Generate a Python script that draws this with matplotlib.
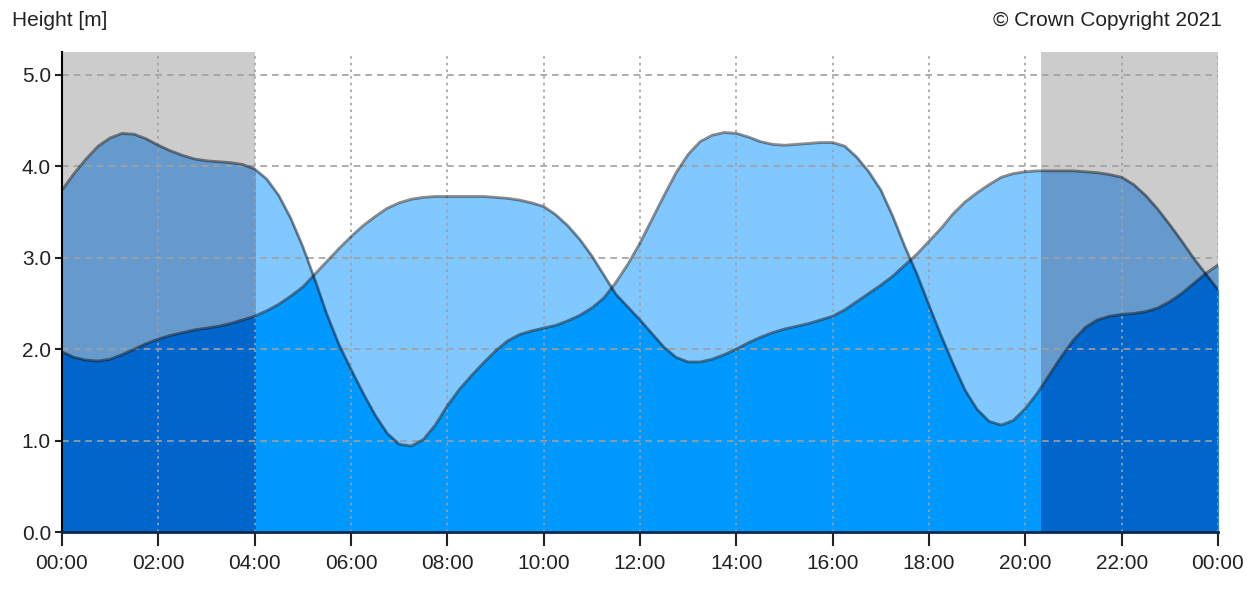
import numpy as np
import matplotlib
matplotlib.use("Agg")
import matplotlib.pyplot as plt
from matplotlib.patches import Rectangle

plt.rcParams['font.family'] = ['Liberation Sans', 'DejaVu Sans']

# readings every quarter hour, 00:00 to 24:00
hours = np.linspace(0, 24, 97)

# tide heights (m), two curves
height_a = [3.74, 3.92, 4.08, 4.22, 4.31, 4.36, 4.35, 4.30,   # 00:00
            4.23, 4.17, 4.12, 4.08, 4.06, 4.05, 4.04, 4.02,   # 02:00
            3.97, 3.86, 3.68, 3.43, 3.12, 2.76, 2.38, 2.05,   # 04:00
            1.78, 1.52, 1.28, 1.08, 0.96, 0.94, 1.01, 1.17,   # 06:00
            1.38, 1.56, 1.71, 1.85, 1.98, 2.09, 2.16, 2.20,   # 08:00
            2.23, 2.26, 2.31, 2.37, 2.45, 2.56, 2.73, 2.93,   # 10:00
            3.16, 3.42, 3.68, 3.93, 4.13, 4.27, 4.34, 4.37,   # 12:00
            4.36, 4.32, 4.27, 4.24, 4.23, 4.24, 4.25, 4.26,   # 14:00
            4.26, 4.22, 4.10, 3.94, 3.74, 3.45, 3.12, 2.82,   # 16:00
            2.48, 2.15, 1.84, 1.55, 1.34, 1.21, 1.17, 1.22,   # 18:00
            1.35, 1.52, 1.72, 1.92, 2.10, 2.24, 2.32, 2.36,   # 20:00
            2.38, 2.39, 2.41, 2.45, 2.52, 2.61, 2.72, 2.83,   # 22:00
            2.92]
height_b = [1.97, 1.91, 1.88, 1.87, 1.89, 1.94, 2.00, 2.06,
            2.11, 2.15, 2.18, 2.21, 2.23, 2.25, 2.28, 2.32,
            2.36, 2.42, 2.49, 2.58, 2.68, 2.82, 2.96, 3.10,
            3.23, 3.35, 3.45, 3.54, 3.60, 3.64, 3.66, 3.67,
            3.67, 3.67, 3.67, 3.67, 3.66, 3.65, 3.63, 3.60,
            3.56, 3.47, 3.35, 3.20, 3.02, 2.81, 2.60, 2.46,
            2.32, 2.17, 2.02, 1.91, 1.86, 1.86, 1.89, 1.94,
            2.00, 2.07, 2.13, 2.18, 2.22, 2.25, 2.28, 2.32,
            2.36, 2.43, 2.52, 2.61, 2.70, 2.80, 2.92, 3.04,
            3.18, 3.32, 3.48, 3.61, 3.71, 3.80, 3.88, 3.92,
            3.94, 3.95, 3.95, 3.95, 3.95, 3.94, 3.93, 3.91,
            3.88, 3.80, 3.68, 3.53, 3.36, 3.18, 2.99, 2.82,
            2.65]

# darkness periods (start, end) in hours
nights = [(0.0, 4.0), (20.33, 24.0)]

xtick_pos = list(range(0, 25, 2))
xtick_labels = ['00:00', '02:00', '04:00', '06:00', '08:00', '10:00', '12:00',
                '14:00', '16:00', '18:00', '20:00', '22:00', '00:00']
ytick_pos = [0, 1, 2, 3, 4, 5]


def add_crossings(t, a, b):
    # insert the points where the two curves cross so the fills meet the lines
    tt, aa, bb = [t[0]], [a[0]], [b[0]]
    for i in range(len(t) - 1):
        d0, d1 = a[i] - b[i], a[i + 1] - b[i + 1]
        if d0 * d1 < 0:
            f = d0 / (d0 - d1)
            yc = a[i] + f * (a[i + 1] - a[i])
            tt.append(t[i] + f * (t[i + 1] - t[i]))
            aa.append(yc)
            bb.append(yc)
        tt.append(t[i + 1])
        aa.append(a[i + 1])
        bb.append(b[i + 1])
    return np.array(tt), np.array(aa), np.array(bb)


a = np.array(height_a)
b = np.array(height_b)
tf, af, bf = add_crossings(hours, a, b)
upper = np.maximum(af, bf)
lower = np.minimum(af, bf)

fig = plt.figure(figsize=(12.6, 5.92), dpi=100)
ax = fig.add_axes([62 / 1260, 60 / 592, (1218 - 62) / 1260, (532 - 52) / 592])

# day fills
ax.fill_between(tf, 0, upper, color='#80c8ff', lw=0, zorder=1)
ax.fill_between(tf, 0, lower, color='#0099ff', lw=0, zorder=2)

# night background and darker fills
for s, e in nights:
    ax.axvspan(s, e, color='#cccccc', lw=0, zorder=0.5)
    clip = Rectangle((s, 0), e - s, 6, transform=ax.transData)
    f1 = ax.fill_between(tf, 0, upper, color='#6699cc', lw=0, zorder=1.5)
    f1.set_clip_path(clip)
    clip2 = Rectangle((s, 0), e - s, 6, transform=ax.transData)
    f2 = ax.fill_between(tf, 0, lower, color='#0066cc', lw=0, zorder=2.5)
    f2.set_clip_path(clip2)

# gridlines
for y in ytick_pos[1:]:
    ax.plot([0, 24], [y, y], color='#a0a0a0', lw=1.2, ls=(0, (4, 3)), zorder=3)
for x in xtick_pos[1:]:
    ax.plot([x, x], [0, 5.25], color='#a0a0a0', lw=1.2, ls=(0, (1.5, 2.5)), zorder=3)

# curve outlines
ax.plot(hours, a, color='black', alpha=0.45, lw=2, zorder=4)
ax.plot(hours, b, color='black', alpha=0.45, lw=2, zorder=4)

ax.set_xlim(0, 24)
ax.set_ylim(0, 5.25)
ax.set_xticks(xtick_pos)
ax.set_xticklabels(xtick_labels)
ax.set_yticks(ytick_pos)
ax.set_yticklabels(['%.1f' % v for v in ytick_pos])
ax.tick_params(axis='x', length=10, width=1.5, pad=6, labelsize=15, colors='#222222')
ax.tick_params(axis='y', length=5, width=1.5, pad=3, labelsize=15, colors='#222222')

for side in ['top', 'right']:
    ax.spines[side].set_visible(False)
ax.spines['left'].set_linewidth(1.5)
ax.spines['bottom'].set_linewidth(2)
ax.spines['bottom'].set_color('#0a2a4a')
ax.spines['left'].set_zorder(5)
ax.spines['bottom'].set_zorder(5)

fig.text(12 / 1260, 1 - 20 / 592, 'Height [m]', ha='left', va='center',
         fontsize=15, color='#222222')
fig.text(1222 / 1260, 1 - 20 / 592, '\u00a9 Crown Copyright 2021', ha='right', va='center',
         fontsize=15, color='#222222')

fig.savefig('out.png', dpi=100)
